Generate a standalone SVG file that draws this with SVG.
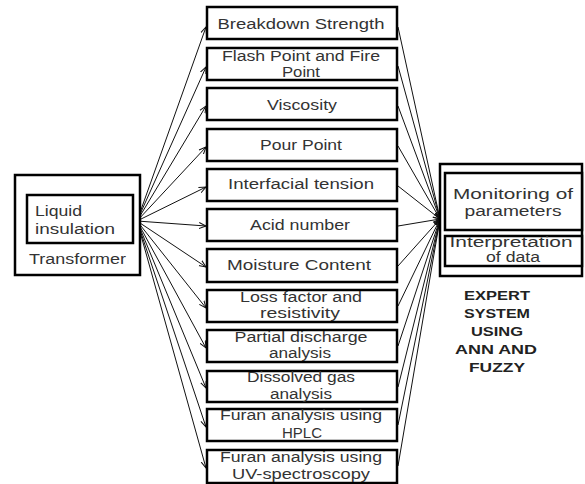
<svg xmlns="http://www.w3.org/2000/svg" width="585" height="484" viewBox="0 0 585 484">
<style>
.bx{fill:#fff;stroke:#000;stroke-width:2.5}
.t{font-family:"Liberation Sans",Arial,sans-serif;font-size:14px;fill:#333;text-anchor:middle}
.tl{font-family:"Liberation Sans",Arial,sans-serif;font-size:14px;fill:#333}
.b{font-family:"Liberation Sans",Arial,sans-serif;font-size:13px;font-weight:bold;fill:#222;text-anchor:middle}
.c{stroke:#111;stroke-width:1;fill:none}
</style>
<defs>
<marker id="ah" markerWidth="8" markerHeight="8" refX="7" refY="4" orient="auto" markerUnits="userSpaceOnUse">
<path d="M0,1 L7,4 L0,7" fill="none" stroke="#111" stroke-width="1"/>
</marker>
</defs>
<rect width="585" height="484" fill="#fff"/>
<g id="connectors" class="c" marker-end="url(#ah)">
<line x1="137" y1="221" x2="206" y2="27"/>
<line x1="137" y1="221" x2="206" y2="67"/>
<line x1="137" y1="221" x2="206" y2="106"/>
<line x1="137" y1="221" x2="206" y2="147"/>
<line x1="137" y1="221" x2="206" y2="187"/>
<line x1="137" y1="221" x2="206" y2="226"/>
<line x1="137" y1="221" x2="206" y2="267"/>
<line x1="137" y1="221" x2="206" y2="308"/>
<line x1="137" y1="221" x2="206" y2="348"/>
<line x1="137" y1="221" x2="206" y2="388"/>
<line x1="137" y1="221" x2="206" y2="427"/>
<line x1="137" y1="221" x2="206" y2="468"/>
<line x1="398" y1="27" x2="440" y2="219"/>
<line x1="398" y1="66" x2="440" y2="219"/>
<line x1="398" y1="106" x2="440" y2="219"/>
<line x1="398" y1="146" x2="440" y2="219"/>
<line x1="398" y1="186" x2="440" y2="219"/>
<line x1="398" y1="226" x2="440" y2="219"/>
<line x1="398" y1="266" x2="440" y2="219"/>
<line x1="398" y1="306" x2="440" y2="219"/>
<line x1="398" y1="346" x2="440" y2="219"/>
<line x1="398" y1="387" x2="440" y2="219"/>
<line x1="398" y1="425" x2="440" y2="219"/>
<line x1="398" y1="466" x2="440" y2="219"/>
</g>
<g id="transformer">
<rect class="bx" x="15" y="175" width="125" height="100"/>
<text class="tl" x="29" y="264" font-size="13" textLength="97" lengthAdjust="spacingAndGlyphs">Transformer</text>
</g>
<g id="liquid">
<rect class="bx" x="27" y="195" width="106" height="48"/>
<text class="tl" x="35" y="216" textLength="47" lengthAdjust="spacingAndGlyphs">Liquid</text>
<text class="tl" x="35" y="234" textLength="80" lengthAdjust="spacingAndGlyphs">insulation</text>
</g>
<g id="n1"><rect class="bx" x="207" y="7" width="190" height="32"/>
<text class="t" x="301" y="29" textLength="167" lengthAdjust="spacingAndGlyphs">Breakdown Strength</text></g>
<g id="n2"><rect class="bx" x="207" y="48" width="190" height="32"/>
<text class="t" x="301" y="61" textLength="158" lengthAdjust="spacingAndGlyphs">Flash Point and Fire</text>
<text class="t" x="301" y="77" textLength="38" lengthAdjust="spacingAndGlyphs">Point</text></g>
<g id="n3"><rect class="bx" x="207" y="88" width="190" height="32"/>
<text class="t" x="302" y="110" textLength="70" lengthAdjust="spacingAndGlyphs">Viscosity</text></g>
<g id="n4"><rect class="bx" x="207" y="129" width="190" height="32"/>
<text class="t" x="301" y="150" textLength="82" lengthAdjust="spacingAndGlyphs">Pour Point</text></g>
<g id="n5"><rect class="bx" x="207" y="169" width="190" height="32"/>
<text class="t" x="301" y="189" textLength="146" lengthAdjust="spacingAndGlyphs">Interfacial tension</text></g>
<g id="n6"><rect class="bx" x="207" y="209" width="190" height="32"/>
<text class="t" x="300" y="230" textLength="100" lengthAdjust="spacingAndGlyphs">Acid number</text></g>
<g id="n7"><rect class="bx" x="207" y="249" width="190" height="33"/>
<text class="t" x="299" y="270" textLength="144" lengthAdjust="spacingAndGlyphs">Moisture Content</text></g>
<g id="n8"><rect class="bx" x="207" y="290" width="190" height="32"/>
<text class="t" x="301" y="302" textLength="122" lengthAdjust="spacingAndGlyphs">Loss factor and</text>
<text class="t" x="300" y="318" textLength="80" lengthAdjust="spacingAndGlyphs">resistivity</text></g>
<g id="n9"><rect class="bx" x="207" y="330" width="190" height="32"/>
<text class="t" x="301" y="342" textLength="133" lengthAdjust="spacingAndGlyphs">Partial discharge</text>
<text class="t" x="300" y="358" textLength="62" lengthAdjust="spacingAndGlyphs">analysis</text></g>
<g id="n10"><rect class="bx" x="207" y="371" width="190" height="31"/>
<text class="t" x="301" y="382" textLength="108" lengthAdjust="spacingAndGlyphs">Dissolved gas</text>
<text class="t" x="301" y="399" textLength="62" lengthAdjust="spacingAndGlyphs">analysis</text></g>
<g id="n11"><rect class="bx" x="207" y="409" width="190" height="32"/>
<text class="t" x="301" y="420" textLength="162" lengthAdjust="spacingAndGlyphs">Furan analysis using</text>
<text class="t" x="302" y="438" textLength="40" lengthAdjust="spacingAndGlyphs">HPLC</text></g>
<g id="n12"><rect class="bx" x="207" y="450" width="190" height="33"/>
<text class="t" x="301" y="462" textLength="162" lengthAdjust="spacingAndGlyphs">Furan analysis using</text>
<text class="t" x="301" y="479" textLength="138" lengthAdjust="spacingAndGlyphs">UV-spectroscopy</text></g>
<g id="expert-box">
<rect class="bx" x="440" y="164" width="142" height="112"/>
</g>
<g id="monitoring"><rect class="bx" x="445" y="173" width="137" height="57"/>
<text class="t" x="513" y="199" textLength="120" lengthAdjust="spacingAndGlyphs">Monitoring of</text>
<text class="t" x="513" y="216" textLength="97" lengthAdjust="spacingAndGlyphs">parameters</text></g>
<g id="interpretation"><rect class="bx" x="445" y="236" width="137" height="30"/>
<text class="t" x="511" y="247" font-size="12" textLength="123" lengthAdjust="spacingAndGlyphs">Interpretation</text>
<text class="t" x="513" y="262" font-size="12" textLength="54" lengthAdjust="spacingAndGlyphs">of data</text></g>
<g id="expert-label">
<text class="b" x="497" y="300" textLength="66" lengthAdjust="spacingAndGlyphs">EXPERT</text>
<text class="b" x="497" y="318" textLength="66" lengthAdjust="spacingAndGlyphs">SYSTEM</text>
<text class="b" x="497" y="336" textLength="52" lengthAdjust="spacingAndGlyphs">USING</text>
<text class="b" x="496" y="354" textLength="82" lengthAdjust="spacingAndGlyphs">ANN AND</text>
<text class="b" x="497" y="372" textLength="56" lengthAdjust="spacingAndGlyphs">FUZZY</text>
</g>
</svg>
